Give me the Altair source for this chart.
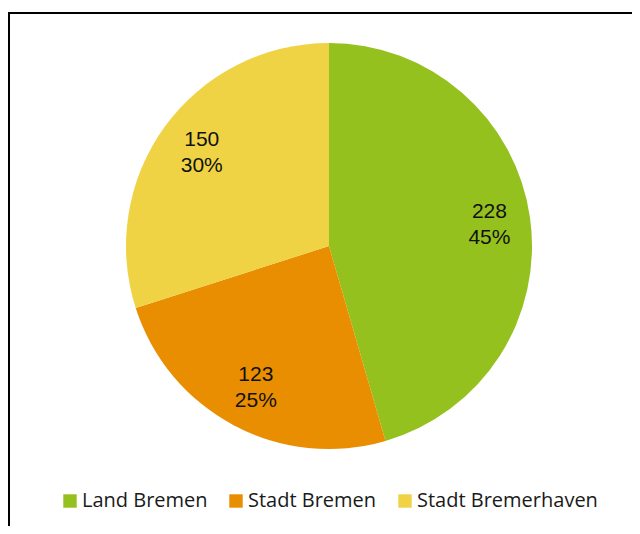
import altair as alt
import pandas as pd

categories = ["Land Bremen", "Stadt Bremen", "Stadt Bremerhaven"]
values = [228, 123, 150]
percents = ["45%", "25%", "30%"]
colors = ["#95c11f", "#e98e00", "#efd345"]

df = pd.DataFrame({
    "cat": categories,
    "val": values,
    "pct": percents,
    "ord": list(range(len(categories))),
})
df["label"] = df["val"].astype(str) + "\n" + df["pct"]

CX, CY, R = 321, 238, 203

base = alt.Chart(df).encode(
    theta=alt.Theta("val:Q", stack=True),
    order=alt.Order("ord:Q"),
    x=alt.value(CX),
    y=alt.value(CY),
)

pie = base.mark_arc(outerRadius=R, strokeWidth=0).encode(
    color=alt.Color(
        "cat:N",
        scale=alt.Scale(domain=categories, range=colors),
        sort=categories,
        legend=alt.Legend(
            title=None,
            orient="none",
            legendX=52,
            legendY=483,
            direction="horizontal",
            symbolType="square",
            symbolSize=180,
            symbolStrokeWidth=0,
            symbolOpacity=1,
            labelFont="Open Sans",
            labelFontSize=20,
            labelColor="#1a1a1a",
            labelLimit=400,
            columnPadding=18,
            labelOffset=2,
        ),
    )
)

labels = base.mark_text(
    radius=160, dx=2, dy=-12, font="Liberation Sans", fontSize=21, color="#111111",
    lineBreak="\n", lineHeight=26, align="center", baseline="middle",
).encode(text="label:N")

top_rule = alt.Chart(df).mark_rule(color="black", strokeWidth=2).encode(
    x=alt.value(0), x2=alt.value(624), y=alt.value(5)
)
left_rule = alt.Chart(df).mark_rule(color="black", strokeWidth=2).encode(
    x=alt.value(1), y=alt.value(4), y2=alt.value(518)
)

chart = alt.layer(pie, labels, top_rule, left_rule).properties(
    width=624, height=518,
    autosize=alt.AutoSizeParams(type="none"),
    padding=0,
).configure_view(stroke=None)

chart.save("out.html", embed_options={"renderer": "svg", "actions": False})
